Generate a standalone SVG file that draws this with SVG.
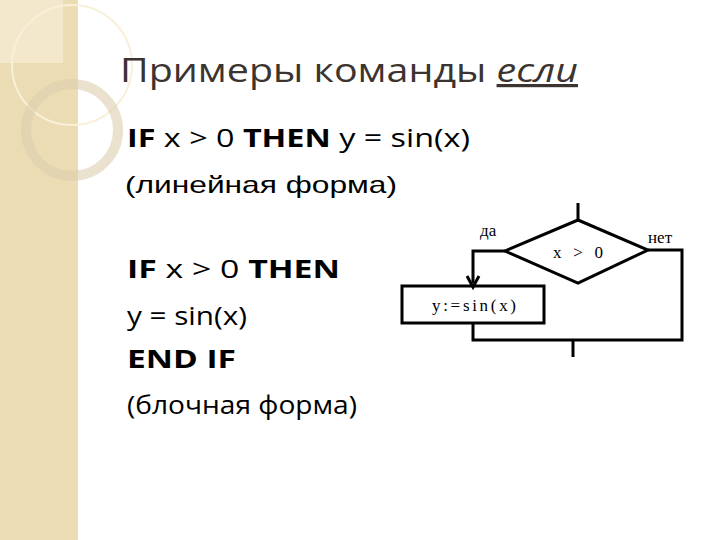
<svg xmlns="http://www.w3.org/2000/svg" width="720" height="540" viewBox="0 0 720 540">
<style>
.b{font-family:"Open Sans","DejaVu Sans",sans-serif;font-size:25px;fill:#000}
.k{font-weight:bold}
.f{font-family:"Liberation Serif",serif;font-size:17px;fill:#000}
.l{stroke:#000;stroke-width:3;fill:none}
</style>
<rect width="720" height="540" fill="#fff"/>
<rect width="78" height="540" fill="#ecdcb4"/>
<rect width="63" height="63" fill="#f3e8cc"/>
<circle cx="72" cy="65" r="60" fill="none" stroke="#f8f0d8" stroke-width="2"/>
<circle cx="72" cy="130" r="46" fill="none" stroke="#dccfae" stroke-width="10" opacity="0.6"/>
<text x="120" y="82" font-family="Open Sans, sans-serif" font-size="32" fill="#3b3430" textLength="458" lengthAdjust="spacingAndGlyphs">Примеры команды <tspan font-style="italic" text-decoration="underline">если</tspan></text>
<text class="b" x="127" y="147" textLength="343" lengthAdjust="spacingAndGlyphs"><tspan class="k">IF</tspan> x &gt; 0 <tspan class="k">THEN</tspan> y = sin(x)</text>
<text x="125" y="193" font-family="Liberation Sans, sans-serif" font-size="24" textLength="272" lengthAdjust="spacingAndGlyphs">(линейная форма)</text>
<text class="b" x="127" y="278" textLength="213" lengthAdjust="spacingAndGlyphs"><tspan class="k">IF</tspan> x &gt; 0 <tspan class="k">THEN</tspan></text>
<text class="b" x="127" y="325" textLength="120" lengthAdjust="spacingAndGlyphs">y = sin(x)</text>
<text class="b k" x="127" y="368" textLength="109" lengthAdjust="spacingAndGlyphs">END IF</text>
<text class="b" x="127" y="414" textLength="230" lengthAdjust="spacingAndGlyphs">(блочная форма)</text>
<g id="connectors">
<path class="l" d="M578 203V220M505 251H473V283M648 250H682V340H473V323M573 340V357"/>
<path d="M467 276L473 287L479 276" class="l" stroke-width="2"/>
</g>
<g id="cond"><polygon class="l" points="578,220 648,250 578,283 505,251"/><text class="f" x="578" y="258" text-anchor="middle" textLength="50">x &gt; 0</text></g>
<g id="assign"><rect class="l" x="402" y="286" width="142" height="37"/><text class="f" x="474" y="311" text-anchor="middle" textLength="84">y:=sin(x)</text></g>
<text class="f" x="480" y="236">да</text>
<text class="f" x="648" y="243">нет</text>
</svg>
